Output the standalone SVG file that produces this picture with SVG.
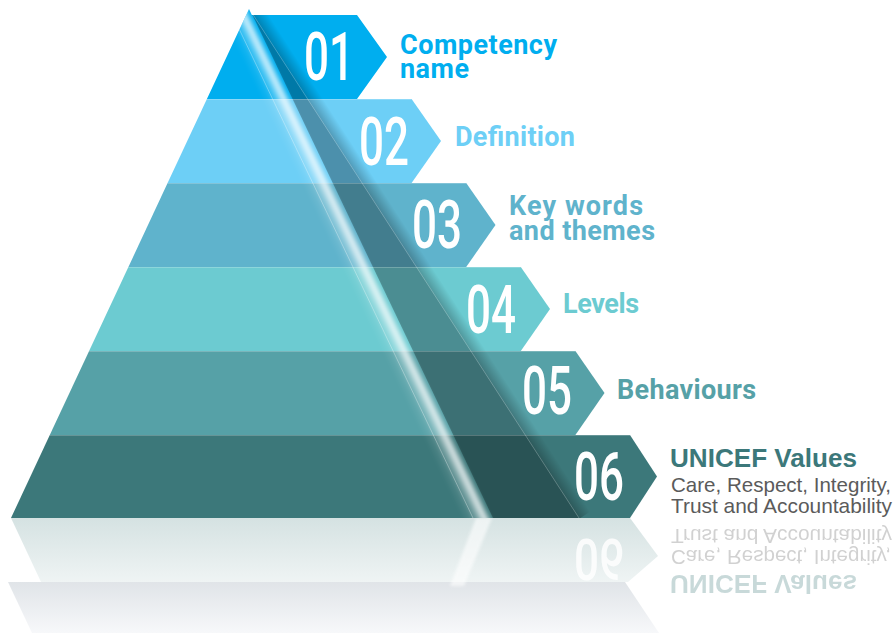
<svg xmlns="http://www.w3.org/2000/svg" width="896" height="633" viewBox="0 0 896 633">
<defs>
<style>
.num{font-family:Roboto,"Liberation Sans",sans-serif;font-size:66px;font-weight:500;fill:#fff}
.lbl{font-family:Roboto,"Liberation Sans",sans-serif;font-size:27px;font-weight:700}
.uv{font-family:"Liberation Sans",Arial,sans-serif;font-weight:700;font-size:26px;fill:#3c787a}
.sub{font-family:"Liberation Sans",Arial,sans-serif;font-size:21px;fill:#5b5b5b}
.sep{stroke:#fff;stroke-opacity:.22;stroke-width:1}
</style>
<linearGradient id="glassG" x1="0" y1="0" x2="1" y2="0">
<stop offset="0" stop-color="#fff" stop-opacity="0"/>
<stop offset="0.25" stop-color="#fff" stop-opacity="0.08"/>
<stop offset="0.45" stop-color="#fff" stop-opacity="0.3"/>
<stop offset="0.62" stop-color="#fff" stop-opacity="0.7"/>
<stop offset="0.7" stop-color="#fff" stop-opacity="0.75"/>
<stop offset="0.8" stop-color="#fff" stop-opacity="0.35"/>
<stop offset="0.92" stop-color="#fff" stop-opacity="0"/>
<stop offset="1" stop-color="#fff" stop-opacity="0"/>
</linearGradient>
<linearGradient id="shadeG" x1="0" y1="0" x2="1" y2="0">
<stop offset="0" stop-color="#000" stop-opacity="0.25"/>
<stop offset="1" stop-color="#000" stop-opacity="0"/>
</linearGradient>
<linearGradient id="refl6" x1="0" y1="0" x2="0" y2="1">
<stop offset="0" stop-color="#d5e2e2"/>
<stop offset="1" stop-color="#eff4f4"/>
</linearGradient>
<linearGradient id="refl5" x1="0" y1="0" x2="0" y2="1">
<stop offset="0" stop-color="#e0e4e8"/>
<stop offset="1" stop-color="#f7f8fa"/>
</linearGradient>
<filter id="soft" x="-20%" y="-20%" width="140%" height="140%"><feGaussianBlur stdDeviation="1.5"/></filter>
<filter id="rblur" x="-5%" y="-20%" width="110%" height="140%"><feGaussianBlur stdDeviation="0.5"/></filter>
<clipPath id="c1"><polygon points="249,9 251.8,15 357,15 387,57 357,99 206.9,99"/></clipPath>
<clipPath id="c2"><polygon points="206.9,99 411.6,99 441,141 411.6,183 167.6,183"/></clipPath>
<clipPath id="c3"><polygon points="167.6,183 466.2,183 495.5,225 466.2,267 128.4,267"/></clipPath>
<clipPath id="c4"><polygon points="128.4,267 520.8,267 550,309 520.8,351 89.1,351"/></clipPath>
<clipPath id="c5"><polygon points="89.1,351 575.4,351 604.5,393 575.4,435 49.8,435"/></clipPath>
<clipPath id="c6"><polygon points="49.8,435 630,435 657,476.5 630,518 11,518"/></clipPath>
<g id="fx">
<polygon points="250,10 493,518 579,518" fill="#000" fill-opacity="0.3"/>
<g transform="translate(250,10) rotate(-32.93)"><rect x="0" y="0" width="13" height="606" fill="url(#shadeG)"/></g>
<line x1="250" y1="10" x2="579" y2="518" stroke="#fff" stroke-opacity="0.3" stroke-width="0.8"/>
<g transform="translate(250,10) rotate(-25.56)">
<rect x="-28" y="-6" width="30" height="580" fill="url(#glassG)" filter="url(#soft)"/>
<line x1="-18" y1="0" x2="-18" y2="575" stroke="#fff" stroke-opacity="0.35" stroke-width="0.8"/>
</g>
</g>
</defs>

<rect width="896" height="633" fill="#fff"/>

<g id="reflection">
<polygon points="8,582 625,582 659,633 32,633" fill="url(#refl5)"/>
<polygon points="11,518 630,518 658,556 628,582 41,582" fill="url(#refl6)"/>
<polygon points="476,518 492,518 464,586 450,586" fill="#fff" opacity="0.6" filter="url(#soft)"/>
<text class="num" x="574" y="500" textLength="50" lengthAdjust="spacingAndGlyphs" transform="matrix(1 0 0 -0.88 0 979.48)" opacity="0.85">06</text>
<g transform="matrix(1 0 0 -1 0 1042)" opacity="0.28" filter="url(#rblur)">
<text class="uv" x="670" y="467" textLength="187" lengthAdjust="spacingAndGlyphs">UNICEF Values</text>
<text class="sub" x="671" y="492" textLength="220" lengthAdjust="spacingAndGlyphs">Care, Respect, Integrity,</text>
<text class="sub" x="671" y="513" textLength="221" lengthAdjust="spacingAndGlyphs">Trust and Accountability</text>
</g>
</g>

<g id="node-6">
<polygon points="49.8,435 630,435 657,476.5 630,518 11,518" fill="#3c787a"/>
<use href="#fx" clip-path="url(#c6)"/>
<line class="sep" x1="49.8" y1="435.5" x2="630" y2="435.5"/>
<text class="num" x="574" y="500" textLength="50" lengthAdjust="spacingAndGlyphs">06</text>
<text class="uv" x="670" y="467" textLength="187" lengthAdjust="spacingAndGlyphs">UNICEF Values</text>
<text class="sub"><tspan x="671" y="492" textLength="220" lengthAdjust="spacingAndGlyphs">Care, Respect, Integrity,</tspan><tspan x="671" y="513" textLength="221" lengthAdjust="spacingAndGlyphs">Trust and Accountability</tspan></text>
</g>

<g id="node-5">
<polygon points="89.1,351 575.4,351 604.5,393 575.4,435 49.8,435" fill="#56a1a7"/>
<use href="#fx" clip-path="url(#c5)"/>
<line class="sep" x1="89.1" y1="351.5" x2="575.4" y2="351.5"/>
<text class="num" x="522" y="414" textLength="50" lengthAdjust="spacingAndGlyphs">05</text>
<text class="lbl" x="617" y="399" fill="#56a1a7" textLength="139">Behaviours</text>
</g>

<g id="node-4">
<polygon points="128.4,267 520.8,267 550,309 520.8,351 89.1,351" fill="#6ccbd1"/>
<use href="#fx" clip-path="url(#c4)"/>
<line class="sep" x1="128.4" y1="267.5" x2="520.8" y2="267.5"/>
<text class="num" x="466" y="333" textLength="50" lengthAdjust="spacingAndGlyphs">04</text>
<text class="lbl" x="563" y="313" fill="#6ccbd1" textLength="76">Levels</text>
</g>

<g id="node-3">
<polygon points="167.6,183 466.2,183 495.5,225 466.2,267 128.4,267" fill="#5fb3cc"/>
<use href="#fx" clip-path="url(#c3)"/>
<line class="sep" x1="167.6" y1="183.5" x2="466.2" y2="183.5"/>
<text class="num" x="412" y="248" textLength="50" lengthAdjust="spacingAndGlyphs">03</text>
<text class="lbl" fill="#5fb3cc"><tspan x="509" y="215" textLength="134">Key words</tspan><tspan x="509" y="240" textLength="146">and themes</tspan></text>
</g>

<g id="node-2">
<polygon points="206.9,99 411.6,99 441,141 411.6,183 167.6,183" fill="#6dcff6"/>
<use href="#fx" clip-path="url(#c2)"/>
<line class="sep" x1="206.9" y1="99.5" x2="411.6" y2="99.5"/>
<text class="num" x="359" y="165" textLength="50" lengthAdjust="spacingAndGlyphs">02</text>
<text class="lbl" x="455" y="146" fill="#6dcff6" textLength="120">Definition</text>
</g>

<g id="node-1">
<polygon points="249,9 251.8,15 357,15 387,57 357,99 206.9,99" fill="#00aeef"/>
<use href="#fx" clip-path="url(#c1)"/>
<text class="num" x="304" y="80" textLength="50" lengthAdjust="spacingAndGlyphs">01</text>
<text class="lbl" fill="#00aeef"><tspan x="400" y="54" textLength="157">Competency</tspan><tspan x="400" y="78" textLength="69">name</tspan></text>
</g>

<g id="connectors"></g>
</svg>
